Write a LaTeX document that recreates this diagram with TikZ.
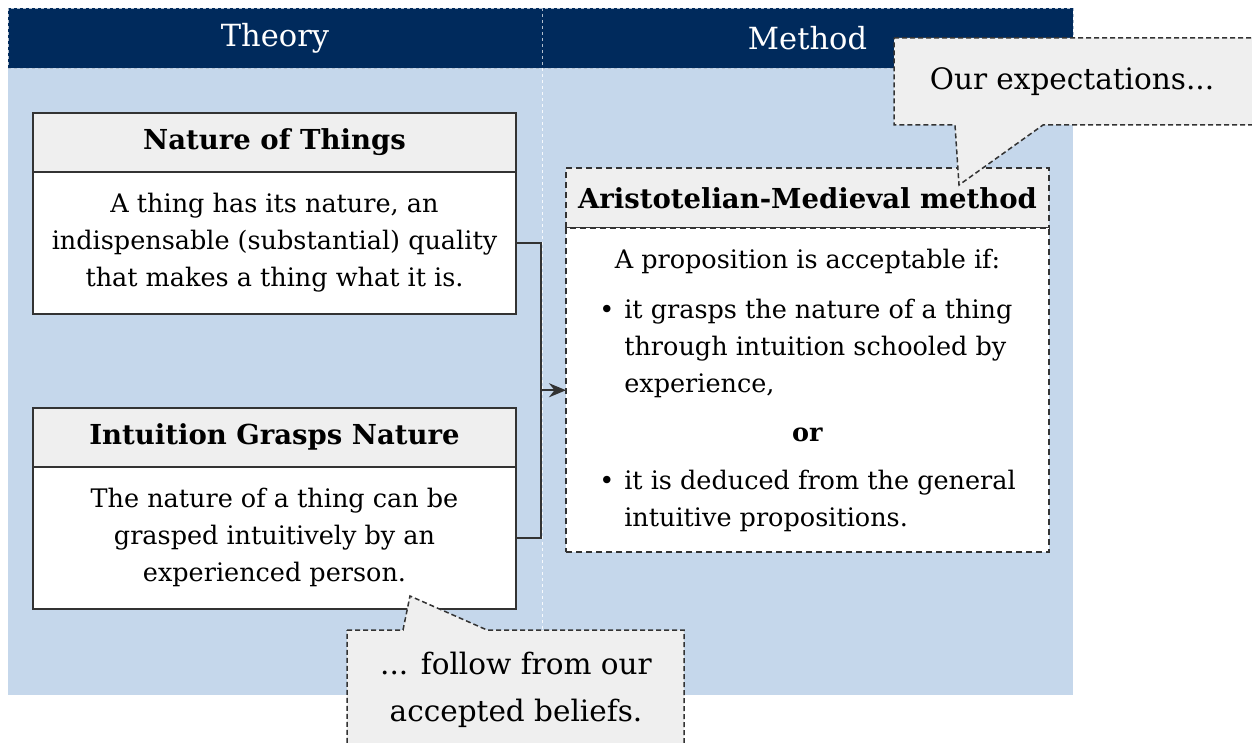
\documentclass[tikz,border=0pt]{standalone}
\usepackage{fontspec}
\setmainfont{DejaVu Serif}
\usepackage{tikz}
\usetikzlibrary{positioning,arrows.meta,calc}
\definecolor{navyhead}{RGB}{0,42,92}
\definecolor{bodyblue}{RGB}{197,215,235}
\definecolor{titlegray}{RGB}{239,239,239}
\definecolor{boxline}{RGB}{51,51,51}
\newcommand\bodyfont{\fontsize{25.5}{37}\selectfont}
\newcommand\titlefont{\fontsize{27.5}{37}\selectfont\bfseries}
\newcommand\headfont{\fontsize{30.5}{36}\selectfont}
\newcommand\calloutfont{\fontsize{29.5}{47}\selectfont}

\begin{document}
\begin{tikzpicture}[
    x=1pt,y=-1pt,
    head/.style={draw=white!70!navyhead,dashed,fill=navyhead,text=white,minimum height=60pt,outer sep=0pt,font=\headfont},
    titlebox/.style={draw=boxline,line width=2pt,fill=titlegray,minimum width=483pt,minimum height=59pt,outer sep=0pt,font=\titlefont},
    textbox/.style={draw=boxline,line width=2pt,fill=white,minimum width=483pt,minimum height=142pt,outer sep=0pt,align=center,font=\bodyfont},
    methodbox/.style={draw=boxline,line width=2pt,dash pattern=on 6pt off 4pt,minimum width=483pt,outer sep=0pt},
    callout/.style={draw=boxline,line width=1.5pt,dash pattern=on 5pt off 3pt,fill=titlegray},
    conn/.style={draw=boxline,line width=2pt}
  ]
    \useasboundingbox (0,0) rectangle (1252,743);
    \clip (0,0) rectangle (1252,743);

    % columns
    \fill[bodyblue] (8,68) rectangle (1073,695);
    \node[head,minimum width=534pt] (theory) at (275,38) {Theory};
    \node[head,minimum width=531pt,right=0pt of theory] (method) {Method};
    \draw[white!85!bodyblue,dashed] (method.south west) -- (542,695);

    % theory side
    \node[titlebox] (natureTitle) at (274.5,142.5) {Nature of Things};
    \node[textbox,below=0pt of natureTitle] (natureText) {A thing has its nature, an\\indispensable (substantial) quality\\that makes a thing what it is.};
    \node[titlebox] (graspTitle) at (274.5,437) {Intuition Grasps Nature};
    \node[textbox,below=0pt of graspTitle] (graspText) {The nature of a thing can be\\grasped intuitively by an\\experienced person.};

    % method side
    \node[methodbox,fill=titlegray,minimum height=60pt,font=\titlefont] (methodTitle) at (807.5,198) {Aristotelian-Medieval method};
    \node[methodbox,fill=white,minimum height=324pt,font=\bodyfont,below=0pt of methodTitle] (methodText) {%
      \begin{tabular}{@{}c@{\hspace{10pt}}l@{}}
        \multicolumn{2}{c}{A proposition is acceptable if:}\\[13pt]
        \textbullet & it grasps the nature of a thing\\
        & through intuition schooled by\\
        & experience,\\[12pt]
        \multicolumn{2}{c}{\textbf{or}}\\[11pt]
        \textbullet & it is deduced from the general\\
        & intuitive propositions.
      \end{tabular}};

    \draw[conn] (natureText.east) -- ++(25,0) |- (graspText.east);
    \coordinate (join) at ($(natureText.east)!0.5!(graspText.east)+(25,0)$);
    \draw[conn,-{Stealth[length=17pt,width=14pt]}] (join) -- (methodText.west |- join);

    % callouts
    \draw[callout] (894,38) -- (1262,38) -- (1262,125) -- (1043,125) -- (959,185) -- (955,125) -- (894,125) -- cycle;
    \node[font=\calloutfont] (expect) at (1072,82) {Our expectations...};
    \draw[callout] (347,630) -- (403,630) -- (410,596) -- (487,630) -- (684,630) -- (684,760) -- (347,760) -- cycle;
    \node[font=\calloutfont,align=center] (beliefs) at (516,690) {... follow from our\\accepted beliefs.};
  \end{tikzpicture}
\end{document}
